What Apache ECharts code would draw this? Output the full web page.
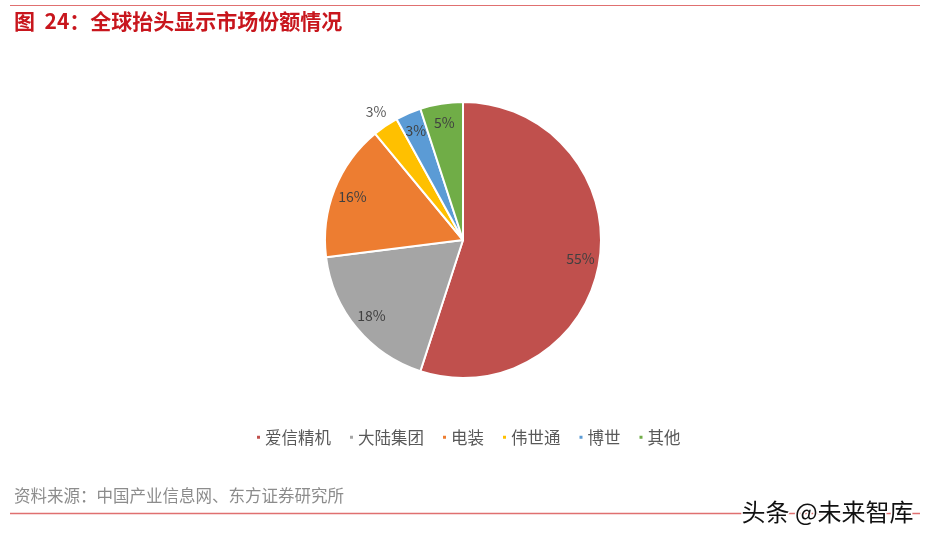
<!DOCTYPE html>
<html><head><meta charset="utf-8">
<script src="https://cdn.jsdelivr.net/npm/echarts@6/dist/echarts.min.js"></script>
<style>html,body{margin:0;padding:0;background:#fff}#c{width:928px;height:541px}</style>
</head><body><div id="c"></div>
<script>
const categories = ['爱信精机','大陆集团','电装','伟世通','博世','其他'];
const shares = [55, 18, 16, 3, 3, 5];
const colors = ['#C0504D','#A5A5A5','#ED7D31','#FFC000','#5B9BD5','#70AD47'];
const outsideLabel = ['伟世通'];

const chart = echarts.init(document.getElementById('c'));
const cx = 463, cy = 240, R = 138;
const font = '"Noto Sans CJK SC", "Noto Sans", sans-serif';

const mainData = categories.map((n,i)=>({name:n, value:shares[i], itemStyle:{color:colors[i]}}));
const innerLabelData = categories.map((n,i)=>({name:n, value:shares[i],
  label:{show: !outsideLabel.includes(n)}}));
const outerLabelData = categories.map((n,i)=>({name:n, value:shares[i],
  label:{show: outsideLabel.includes(n)}}));

chart.setOption({
  animation:false,
  legend:{
    data: categories, left: 250, top: 424, icon:'rect', itemWidth:5, itemHeight:5, itemGap:17,
    textStyle:{fontSize:16.5, color:'#595959', fontFamily:font, padding:[0,0,0,-1]}
  },
  graphic:[
    {type:'line', shape:{x1:10,y1:5.5,x2:920,y2:5.5}, style:{stroke:'#E07070', lineWidth:1.2}},
    {type:'text', left:14, top:11, style:{text:'图  24：全球抬头显示市场份额情况', fill:'#C8161D', font:'bold 21px '+font}},
    {type:'text', left:14, top:487, style:{text:'资料来源：中国产业信息网、东方证券研究所', fill:'#8C8C8C', font:'16.5px '+font}},
    {type:'line', shape:{x1:10,y1:513.5,x2:920,y2:513.5}, style:{stroke:'#E07070', lineWidth:1.5}},
    {type:'text', left:740, top:498, style:{text:'头条 @未来智库', fill:'#111', font:'24px '+font, stroke:'#fff', lineWidth:3}}
  ],
  series:[
    {type:'pie', center:[cx,cy], radius:[0,R], startAngle:90, clockwise:true,
     silent:true, label:{show:false}, labelLine:{show:false},
     itemStyle:{borderColor:'#fff', borderWidth:2},
     data: mainData},
    {type:'pie', center:[cx,cy], radius:[R*0.68, R], startAngle:90, clockwise:true,
     silent:true, labelLine:{show:false},
     itemStyle:{color:'rgba(0,0,0,0)', borderWidth:0},
     label:{position:'inside', formatter:'{c}%', color:'#404040', fontSize:14, fontFamily:font},
     data: innerLabelData},
    {type:'pie', center:[cx,cy], radius:[R, R*1.2], startAngle:90, clockwise:true,
     silent:true, labelLine:{show:false},
     itemStyle:{color:'rgba(0,0,0,0)', borderWidth:0},
     label:{position:'inside', formatter:'{c}%', color:'#595959', fontSize:14, fontFamily:font},
     data: outerLabelData}
  ]
});
</script></body></html>
